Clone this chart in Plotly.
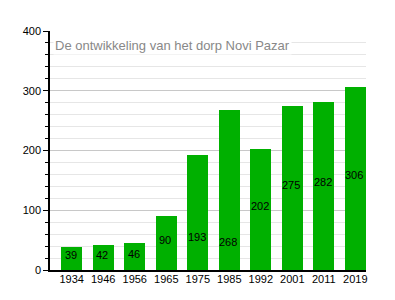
import plotly.graph_objects as go

years = ["1934", "1946", "1956", "1965", "1975", "1985", "1992", "2001", "2011", "2019"]
population = [39, 42, 46, 90, 193, 268, 202, 275, 282, 306]
label_heights = [25, 25, 27, 50, 55, 47, 107, 142, 147, 159]
title_text = "De ontwikkeling van het dorp Novi Pazar"

xs = list(range(len(years)))

fig = go.Figure()
fig.add_trace(go.Bar(
    x=xs, y=population, width=0.67,
    marker=dict(color="#00b000", line=dict(width=0)),
    hoverinfo="skip",
))

for i, (v, h) in enumerate(zip(population, label_heights)):
    fig.add_annotation(x=i - 0.03, y=h, text=str(v), showarrow=False,
                       font=dict(family="Liberation Sans, Arial", size=11, color="#000"))

fig.add_annotation(xref="paper", yref="paper", x=0.01, y=0.978, xanchor="left", yanchor="top",
                   text=title_text, showarrow=False, bgcolor="white",
                   font=dict(family="Liberation Sans, Arial", size=13, color="#888"))

fig.update_layout(
    width=395, height=300,
    margin=dict(l=50, r=29, t=31, b=30),
    paper_bgcolor="white", plot_bgcolor="white",
    showlegend=False,
    bargap=0,
    font=dict(family="Liberation Sans, Arial", size=11, color="#000"),
)
fig.update_xaxes(
    range=[-0.69, 9.34], tickmode="array", tickvals=xs, ticktext=years,
    showline=True, linecolor="#000", linewidth=1.5, showgrid=False, ticks="",
    zeroline=False, fixedrange=True, ticklabelstandoff=-2,
)
fig.update_yaxes(
    range=[0, 400], tickvals=[0, 100, 200, 300, 400],
    showline=True, linecolor="#000", linewidth=1.5,
    showgrid=True, gridcolor="#c8c8c8", gridwidth=1,
    ticks="outside", ticklen=5, tickcolor="#000",
    minor=dict(dtick=20, showgrid=True, gridcolor="#e6e6e6", ticks="outside", ticklen=3, tickcolor="#000"),
    zeroline=False, fixedrange=True,
)

fig.write_html("out.html")
